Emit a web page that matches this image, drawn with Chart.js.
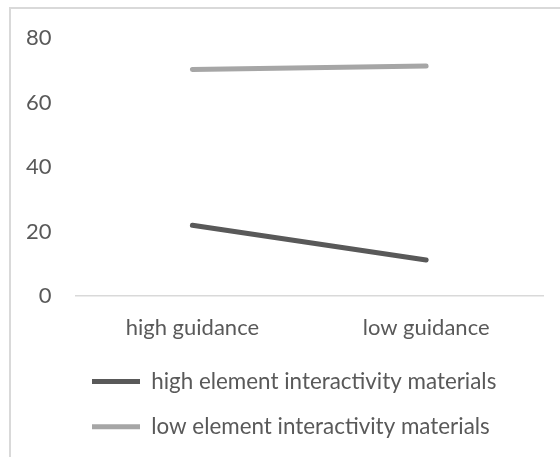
<!DOCTYPE html>
<html>
<head>
<meta charset="utf-8">
<script src="https://cdn.jsdelivr.net/npm/chart.js@4"></script>
<style>
  html, body { margin: 0; padding: 0; background: #fff; overflow: hidden; }
  .frame {
    position: absolute; left: 9px; top: 7px;
    width: 560px; height: 460px;
    border-left: 2px solid #d9d9d9; border-top: 2px solid #d9d9d9;
  }
  canvas { display: block; }
</style>
</head>
<body>
<div class="frame">
  <canvas id="chart" width="549" height="448"></canvas>
</div>
<script>
const categories = ['high guidance', 'low guidance'];
const highElement = [22.0, 11.2];
const lowElement = [70.3, 71.4];
const yTicks = [0, 20, 40, 60, 80];

const textColor = '#595959';
const font = { family: 'Lato', size: 22 };

// legend rows are left aligned in one column, like the Excel original
const legendShift = {
  id: 'legendShift',
  afterLayout(chart) {
    const w = chart.legend.width;
    chart.legend.left = 58;
    chart.legend.right = 58 + w;
  },
};

new Chart(document.getElementById('chart'), {
  type: 'line',
  plugins: [legendShift],
  data: {
    labels: categories,
    datasets: [
      {
        label: 'high element interactivity materials',
        data: highElement,
        borderColor: '#595959',
        backgroundColor: '#595959',
        borderWidth: 5,
        borderCapStyle: 'round',
        pointRadius: 0,
        tension: 0,
      },
      {
        label: 'low element interactivity materials',
        data: lowElement,
        borderColor: '#a6a6a6',
        backgroundColor: '#a6a6a6',
        borderWidth: 5,
        borderCapStyle: 'round',
        pointRadius: 0,
        tension: 0,
      },
    ],
  },
  options: {
    responsive: false,
    animation: false,
    layout: { padding: { left: -1, top: 28, right: 17, bottom: 9 } },
    scales: {
      x: {
        offset: true,
        grid: { display: false, drawTicks: false },
        border: { display: true, color: '#d9d9d9', width: 1.5 },
        ticks: { color: textColor, font, padding: 19 },
        afterFit: (scale) => {
          scale.paddingLeft = 0;
          scale.paddingRight = 0;
          scale.height = 51;
        },
      },
      y: {
        min: yTicks[0],
        max: yTicks[yTicks.length - 1],
        afterBuildTicks: (axis) => { axis.ticks = yTicks.map(v => ({ value: v })); },
        grid: { display: false },
        border: { display: false },
        ticks: { color: textColor, font, padding: 16 },
      },
    },
    plugins: {
      tooltip: false,
      legend: {
        position: 'bottom',
        align: 'start',
        labels: {
          color: textColor,
          font: { family: 'Lato', size: 22.4 },
          usePointStyle: true,
          pointStyle: 'line',
          pointStyleWidth: 48,
          padding: 23,
        },
      },
    },
  },
});
</script>
</body>
</html>
